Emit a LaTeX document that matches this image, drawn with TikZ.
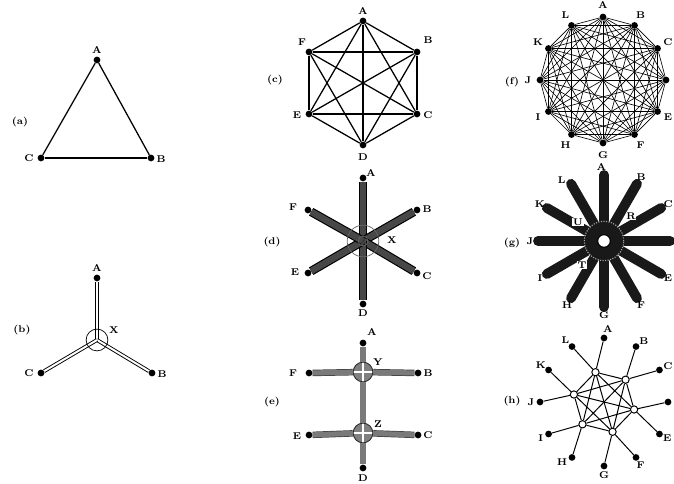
\documentclass[tikz,border=0pt]{standalone}
\usetikzlibrary{calc}

\begin{document}
\begin{tikzpicture}[
        x=0.025cm, y=0.025cm,
        dot/.style  ={circle, fill=black, inner sep=0pt, minimum size=4.8pt},
        lbl/.style  ={font=\scriptsize\bfseries, inner sep=0.5pt},
        tag/.style  ={font=\scriptsize\bfseries, inner sep=0.5pt},
        lnk/.style  ={draw=black, line width=0.9pt},
        fine/.style ={draw=black, line width=0.45pt},
        mid/.style  ={draw=black, line width=0.7pt},
        dbl/.style  ={draw=black, line width=0.65pt, double=white, double distance=1.4pt},
        dbar/.style ={draw=black, line width=0.8pt, double=black!72, double distance=4.6pt},
        ebar/.style ={draw=black!75, line width=0.5pt, double=black!52, double distance=3.6pt},
        gbar/.style ={draw=black!90, line width=7pt, line cap=round},
        ring/.style ={circle, draw=black, line width=0.5pt, inner sep=0pt},
        ehub/.style ={circle, draw=black!85, fill=black!50, line width=0.6pt,
                minimum size=14pt, inner sep=0pt,
                path picture={\draw[white, line width=1.1pt]
                    (path picture bounding box.north) -- (path picture bounding box.south)
                    (path picture bounding box.west) -- (path picture bounding box.east);}},
        hhub/.style ={circle, draw=black, fill=white, line width=0.7pt,
                inner sep=0pt, minimum size=5.2pt}
    ]
    \useasboundingbox (0,0) rectangle (674,484);

    %% ---- (a) three points, direct links ---------------------------------
    \node[tag] (ta) at (20,362) {(a)};
    \node[dot] (aA) at (97,424) {};
    \node[dot] (aB) at (151,326) {};
    \node[dot] (aC) at (41,326) {};
    \draw[lnk] (aA) -- (aB);
    \draw[lnk] (aB) -- (aC);
    \draw[lnk] (aC) -- (aA);
    \node[lbl] (laA) at (97,434) {A};
    \node[lbl] (laB) at (161,325) {B};
    \node[lbl] (laC) at (29,326) {C};

    %% ---- (b) three points through one hub X -----------------------------
    \node[tag] (tb) at (22,154) {(b)};
    \coordinate (bX) at (97,144);
    \node[dot] (bA) at (97,206) {};
    \node[dot] (bB) at (152,111) {};
    \node[dot] (bC) at (41,111) {};
    \draw[dbl] (bX) -- (bA);
    \draw[dbl] (bX) -- (bB);
    \draw[dbl] (bX) -- (bC);
    \node[ring, minimum size=15.5pt] (bXr) at (bX) {};
    \node[lbl] (lbA) at (97,216) {A};
    \node[lbl] (lbX) at (114,154) {X};
    \node[lbl] (lbB) at (162,110) {B};
    \node[lbl] (lbC) at (29,111) {C};

    %% ---- (c) six points, every pair linked --------------------------------
    \node[tag] (tc) at (275,404) {(c)};
    \node[dot] (cA) at (363,463) {};
    \node[dot] (cB) at (417,432) {};
    \node[dot] (cC) at (417,370) {};
    \node[dot] (cD) at (363,339) {};
    \node[dot] (cE) at (309,370) {};
    \node[dot] (cF) at (309,432) {};
    \foreach \u/\v in {A/B,A/C,A/D,A/E,A/F,B/C,B/D,B/E,B/F,C/D,C/E,C/F,D/E,D/F,E/F}
        \draw[lnk] (c\u) -- (c\v);
    \node[lbl] (lcA) at (363,473) {A};
    \node[lbl] (lcB) at (428,444) {B};
    \node[lbl] (lcC) at (428,369) {C};
    \node[lbl] (lcD) at (363,327) {D};
    \node[lbl] (lcE) at (297,369) {E};
    \node[lbl] (lcF) at (302,442) {F};

    %% ---- (d) six points through hub X ------------------------------------
    \node[tag] (td) at (272,242) {(d)};
    \coordinate (dX) at (363,243);
    \node[dot] (dA) at (363,306) {};
    \node[dot] (dB) at (417,274) {};
    \node[dot] (dC) at (417,211) {};
    \node[dot] (dD) at (363,180) {};
    \node[dot] (dE) at (308,211) {};
    \node[dot] (dF) at (308,274) {};
    \foreach \v in {A,B,C,D,E,F}
        \draw[dbar] (dX) -- (d\v);
    \node[ring, draw=black!60, minimum size=22.5pt] (dXr) at (dX) {};
    \node[ring, draw=black!60, minimum size=7pt] (dXi) at (dX) {};
    \node[lbl] (ldA) at (371,311) {A};
    \node[lbl] (ldX) at (392,244) {X};
    \node[lbl] (ldB) at (427,275) {B};
    \node[lbl] (ldC) at (427,208) {C};
    \node[lbl] (ldD) at (363,171) {D};
    \node[lbl] (ldE) at (295,212) {E};
    \node[lbl] (ldF) at (293,277) {F};

    %% ---- (e) six points over two hubs Y, Z -------------------------------
    \node[tag] (te) at (272,82) {(e)};
    \node[ehub] (eY) at (363,112) {};
    \node[ehub] (eZ) at (363,51) {};
    \node[dot] (eA) at (363,141) {};
    \node[dot] (eB) at (418,111) {};
    \node[dot] (eC) at (418,49) {};
    \node[dot] (eD) at (363,16) {};
    \node[dot] (eE) at (309,49) {};
    \node[dot] (eF) at (309,111) {};
    \draw[ebar] (eY) -- (eZ);
    \foreach \v in {A,B,F}
        \draw[ebar] (eY) -- (e\v);
    \foreach \v in {C,D,E}
        \draw[ebar] (eZ) -- (e\v);
    \node[lbl] (leA) at (372,152) {A};
    \node[lbl] (leY) at (378,122) {Y};
    \node[lbl] (leZ) at (378,60) {Z};
    \node[lbl] (leB) at (428,111) {B};
    \node[lbl] (leC) at (428,49) {C};
    \node[lbl] (leD) at (363,6) {D};
    \node[lbl] (leE) at (297,48) {E};
    \node[lbl] (leF) at (293,111) {F};

    %% ---- (f) twelve points, every pair linked ----------------------------
    \node[tag] (tf) at (512,402) {(f)};
    \begin{scope}[shift={(603,404)}]
        \foreach \i in {1,...,12}
            \node[dot] (f\i) at ({120-30*\i}:63) {};
        \foreach \i in {1,...,11} {
            \pgfmathtruncatemacro{\k}{\i+1}
            \foreach \j in {\k,...,12}
                \draw[fine] (f\i) -- (f\j);
        }
        \foreach \n/\a in {A/90,B/60,C/30,E/-30,F/-60,G/-90,H/-120,I/-150,J/180,K/150,L/120}
            \node[lbl] (lf\n) at (\a:75) {\n};
    \end{scope}

    %% ---- (g) twelve points through one hub -------------------------------
    \node[tag] (tg) at (512,241) {(g)};
    \begin{scope}[shift={(604,243)}]
        \coordinate (gO) at (0,0);
        \foreach \i in {1,...,12}
            \node[dot] (g\i) at ({120-30*\i}:66) {};
        \foreach \i in {1,...,12}
            \draw[gbar] (gO) -- (g\i.center);
        \node[circle, draw=black!35, densely dotted, line width=0.8pt,
            minimum size=28pt, inner sep=0pt] (gR) at (gO) {};
        \node[circle, draw=black, fill=white, line width=0.8pt,
            minimum size=9pt, inner sep=0pt] (gH) at (gO) {};
        \node[lbl, fill=white] (lgU) at (-26,19) {U};
        \node[lbl, fill=white] (lgR) at (27,25) {R};
        \node[lbl, fill=white] (lgT) at (-22,-24) {T};
        \foreach \n/\a in {A/92,B/60,C/30,E/-30,F/-60,G/-90,H/-120,I/-150,J/180,K/150,L/125}
            \node[lbl] (lg\n) at (\a:74) {\n};
    \end{scope}

    %% ---- (h) twelve points over six linked hubs --------------------------
    \node[tag] (th) at (512,83) {(h)};
    \begin{scope}[shift={(604,82)}]
        \foreach \i in {1,...,12}
            \node[dot] (h\i) at ({120-30*\i}:64) {};
        \foreach \k in {1,...,6}
            \node[hhub] (hh\k) at ({166-60*\k}:31) {};
        \foreach \k/\p/\q in {1/12/1,2/2/3,3/4/5,4/6/7,5/8/9,6/10/11} {
            \draw[mid] (hh\k) -- (h\p);
            \draw[mid] (hh\k) -- (h\q);
        }
        \foreach \i in {1,...,5} {
            \pgfmathtruncatemacro{\k}{\i+1}
            \foreach \j in {\k,...,6}
                \draw[mid] (hh\i) -- (hh\j);
        }
        \foreach \n/\a in {A/87,B/57,C/29,E/-30,F/-60,G/-90,H/-125,I/-150,J/180,K/150,L/122}
            \node[lbl] (lh\n) at (\a:73) {\n};
    \end{scope}

\end{tikzpicture}
\end{document}
